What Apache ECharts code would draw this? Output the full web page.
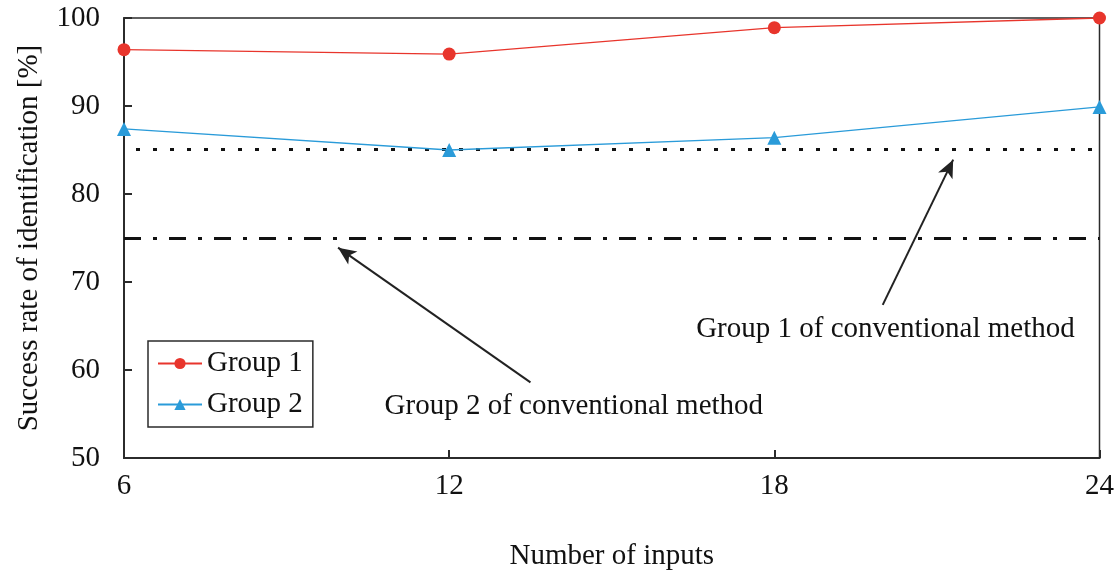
<!DOCTYPE html>
<html>
<head>
<meta charset="utf-8">
<script src="https://cdn.jsdelivr.net/npm/echarts@6/dist/echarts.min.js"></script>
<style>html,body{margin:0;padding:0;background:#fff;}#c{width:1117px;height:576px;}</style>
</head>
<body>
<div id="c"></div>
<script>
// ---- data ----
const xValues = [6, 12, 18, 24];
const group1 = [96.4, 95.9, 98.9, 100];
const group2 = [87.4, 85.0, 86.4, 89.9];
const conv1Level = 85.1;   // Group 1 of conventional method
const conv2Level = 75.0;   // Group 2 of conventional method
const annoTexts = ['Group 1 of conventional method', 'Group 2 of conventional method'];
const anno1Pos = [20.05, 64.6];
const anno2Pos = [14.3, 55.9];
const arrow1 = [[20.0, 67.4], [21.3, 83.9]];
const arrow2 = [[13.5, 58.6], [9.95, 73.9]];

const FONT = '"Liberation Serif", "DejaVu Serif", serif';
const AX = '#2b2b2b';
const TXT = '#111';

const chart = echarts.init(document.getElementById('c'));
chart.setOption({
  animation: false,
  backgroundColor: '#fff',
  textStyle: { fontFamily: FONT },
  grid: { left: 124, right: 17, top: 18, bottom: 118, show: true, borderColor: AX, borderWidth: 1.5, backgroundColor: 'transparent' },
  legend: {
    data: ['Group 1', 'Group 2'],
    orient: 'vertical',
    left: 148, top: 341,
    padding: [8, 10, 8, 9],
    itemGap: 12,
    itemWidth: 44, itemHeight: 14,
    borderColor: AX, borderWidth: 1.5,
    backgroundColor: '#fff',
    textStyle: { fontFamily: FONT, fontSize: 29, color: TXT, lineHeight: 28 }
  },
  xAxis: {
    type: 'value', min: 6, max: 24, interval: 6,
    name: 'Number of inputs', nameLocation: 'middle', nameGap: 84,
    nameTextStyle: { fontFamily: FONT, fontSize: 29, color: TXT },
    axisLine: { lineStyle: { color: AX, width: 2 } },
    axisTick: { inside: true, length: 8, lineStyle: { color: AX, width: 2 } },
    axisLabel: { fontFamily: FONT, fontSize: 29, color: TXT, margin: 14 },
    splitLine: { show: false }
  },
  yAxis: {
    type: 'value', min: 50, max: 100, interval: 10,
    name: 'Success rate of identification [%]', nameLocation: 'middle', nameGap: 80,
    nameTextStyle: { fontFamily: FONT, fontSize: 29, color: TXT },
    axisLine: { lineStyle: { color: AX, width: 2 } },
    axisTick: { inside: true, length: 8, lineStyle: { color: AX, width: 2 } },
    axisLabel: { fontFamily: FONT, fontSize: 29, color: TXT, margin: 24 },
    splitLine: { show: false }
  },
  series: [
    {
      name: 'Group 1', type: 'line',
      data: xValues.map((x, i) => [x, group1[i]]),
      symbol: 'circle', symbolSize: 13,
      lineStyle: { color: '#e8352c', width: 1.3 },
      itemStyle: { color: '#e8352c' },
      z: 5
    },
    {
      name: 'Group 2', type: 'line',
      data: xValues.map((x, i) => [x, group2[i]]),
      symbol: 'triangle', symbolSize: 14,
      lineStyle: { color: '#2a9bd9', width: 1.3 },
      itemStyle: { color: '#2a9bd9' },
      z: 5
    },
    {
      name: 'refs', type: 'line', data: [],
      markLine: {
        silent: true, symbol: ['none', 'none'], label: { show: false },
        data: [
          { yAxis: conv1Level, lineStyle: { color: '#111', width: 3, type: [4, 13], dashOffset: -12 } },
          { yAxis: conv2Level, lineStyle: { color: '#111', width: 3, type: [17, 12, 4, 12] } }
        ]
      }
    },
    {
      name: 'arrows', type: 'line', data: [],
      markLine: {
        silent: true, symbol: ['none', 'arrow'], symbolSize: [12, 18], label: { show: false },
        lineStyle: { color: '#222', width: 2, type: 'solid' },
        data: [
          [{ coord: arrow1[0] }, { coord: arrow1[1] }],
          [{ coord: arrow2[0] }, { coord: arrow2[1] }]
        ]
      }
    },
    {
      name: 'annotations', type: 'scatter', symbolSize: 0,
      itemStyle: { opacity: 1 },
      data: [
        { name: annoTexts[0], value: anno1Pos },
        { name: annoTexts[1], value: anno2Pos }
      ],
      label: { show: true, position: 'inside', formatter: p => p.name, fontFamily: FONT, fontSize: 29, color: TXT }
    }
  ]
});
</script>
</body>
</html>
